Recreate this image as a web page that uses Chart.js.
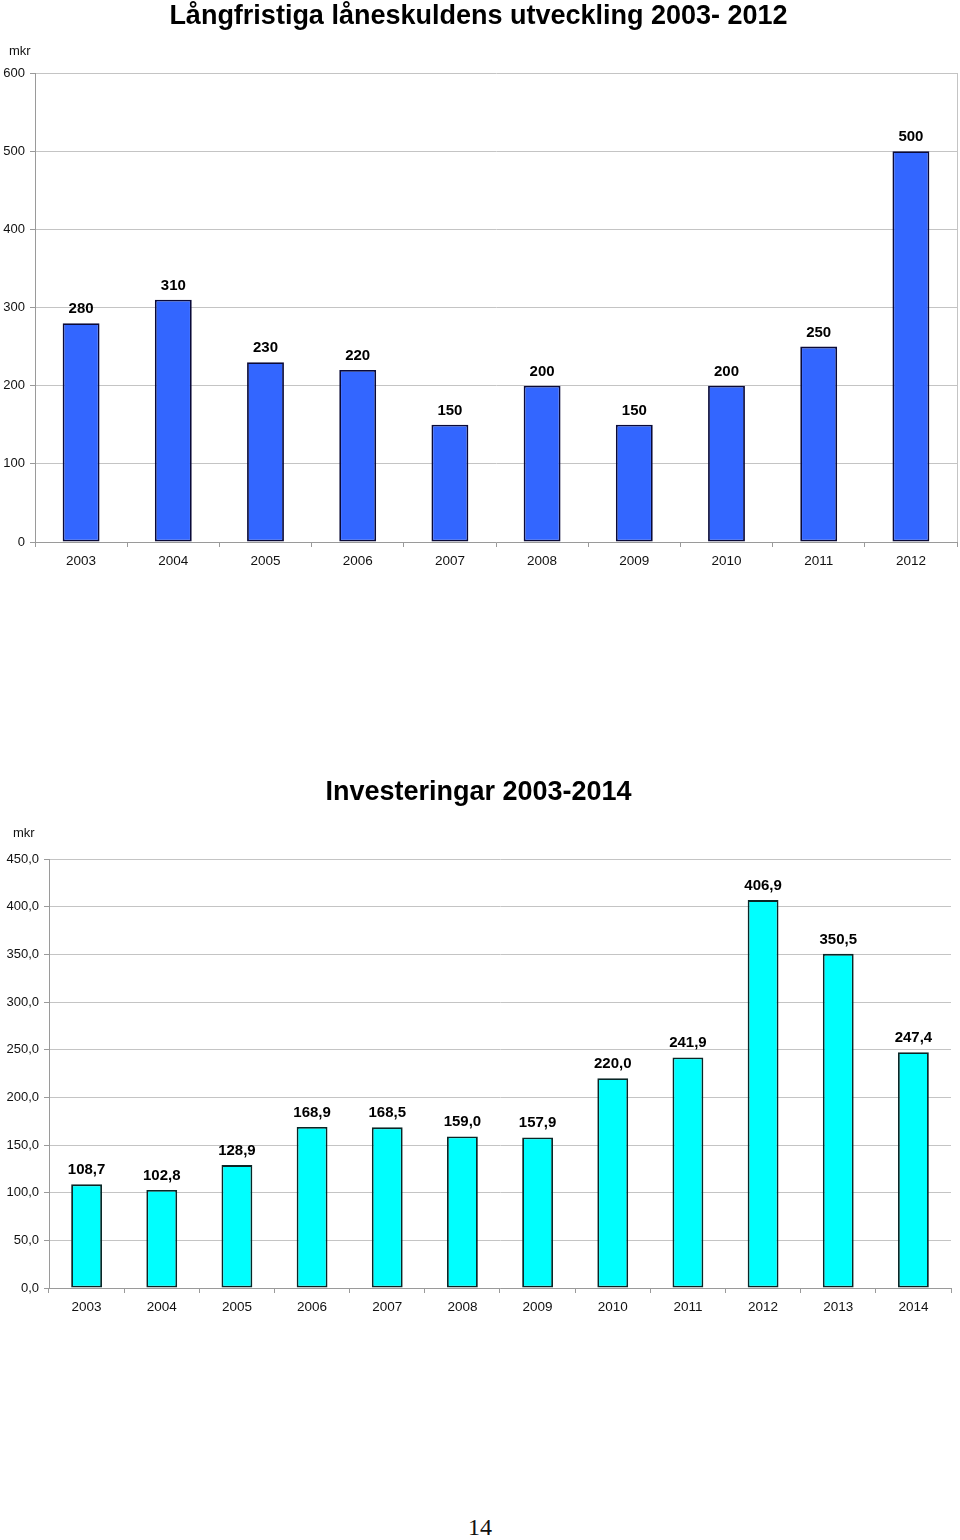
<!DOCTYPE html>
<html>
<head>
  <meta charset="utf-8">
  <title>Låneskuld och investeringar</title>
  <script src="https://cdn.jsdelivr.net/npm/chart.js"></script>
  <style>
    body { margin: 0; background: #fff; font-family: "Liberation Sans", Arial, sans-serif; }
    .page { position: relative; width: 960px; height: 1540px; }
    .box { position: absolute; left: 0; width: 960px; }
    .unit { position: absolute; font-size: 13px; color: #111; }
    .pagenr { position: absolute; top: 1514px; left: 0; width: 960px; text-align: center;
              font-family: "Liberation Serif", "DejaVu Serif", serif; font-size: 24px; color: #111; }
  </style>
</head>
<body>
<div class="page">
  <div class="box" style="top:0; height:572px;"><canvas id="loanChart" width="960" height="572"></canvas></div>
  <div class="unit" style="top:43px; left:9px;">mkr</div>

  <div class="box" style="top:760px; height:558px;"><canvas id="investChart" width="960" height="558"></canvas></div>
  <div class="unit" style="top:825px; left:13px;">mkr</div>

  <div class="pagenr">14</div>
</div>

<script>
  // Långfristig låneskuld, mkr
  const loanYears = ['2003', '2004', '2005', '2006', '2007', '2008', '2009', '2010', '2011', '2012'];
  const loanValues = [280, 310, 230, 220, 150, 200, 150, 200, 250, 500];

  // Investeringar, mkr
  const investYears = ['2003', '2004', '2005', '2006', '2007', '2008', '2009', '2010', '2011', '2012', '2013', '2014'];
  const investValues = [108.7, 102.8, 128.9, 168.9, 168.5, 159.0, 157.9, 220.0, 241.9, 406.9, 350.5, 247.4];

  const fontFamily = '"Liberation Sans", Arial, sans-serif';
  const gridColor = '#c4c4c4';
  const axisColor = '#9a9a9a';

  function sv(v, decimals) {
    return v.toFixed(decimals).replace('.', ',');
  }

  // value labels above the bars
  const valueLabels = {
    id: 'valueLabels',
    afterDatasetsDraw(chart, args, opts) {
      const ctx = chart.ctx;
      const meta = chart.getDatasetMeta(0);
      ctx.save();
      ctx.font = 'bold 15px ' + fontFamily;
      ctx.fillStyle = '#000';
      ctx.textAlign = 'center';
      ctx.textBaseline = 'alphabetic';
      meta.data.forEach((bar, i) => {
        const v = chart.data.datasets[0].data[i];
        ctx.fillText(sv(v, opts.decimals || 0), bar.x, bar.y - 10);
      });
      ctx.restore();
    }
  };

  // thin line on the right edge of the plot area
  const rightEdge = {
    id: 'rightEdge',
    beforeDatasetsDraw(chart, args, opts) {
      if (!opts.show) return;
      const a = chart.chartArea;
      const ctx = chart.ctx;
      ctx.save();
      ctx.strokeStyle = gridColor;
      ctx.lineWidth = 1;
      ctx.beginPath();
      ctx.moveTo(Math.round(a.right) + 0.5, a.top);
      ctx.lineTo(Math.round(a.right) + 0.5, a.bottom);
      ctx.stroke();
      ctx.restore();
    }
  };

  function makeChart(id, labels, values, cfg) {
    return new Chart(document.getElementById(id), {
      type: 'bar',
      data: {
        labels: labels,
        datasets: [{
          data: values,
          backgroundColor: cfg.fill,
          borderColor: cfg.border,
          borderWidth: 1.8,
          borderSkipped: false,
          barPercentage: cfg.barPct,
          categoryPercentage: 1
        }]
      },
      options: {
        responsive: false,
        animation: false,
        layout: { padding: { left: cfg.padLeft, right: cfg.padRight, top: 0, bottom: 0 } },
        plugins: {
          legend: { display: false },
          tooltip: { enabled: false },
          title: {
            display: true,
            text: cfg.title,
            color: '#000',
            font: { family: fontFamily, size: 27, weight: 'bold', lineHeight: 1.2 },
            padding: { top: cfg.titleTop, bottom: cfg.titleBottom }
          },
          valueLabels: { decimals: cfg.decimals },
          rightEdge: { show: cfg.rightEdge }
        },
        scales: {
          x: {
            offset: true,
            grid: { offset: true, drawOnChartArea: false, drawTicks: true, tickLength: 5, color: axisColor },
            border: { color: axisColor },
            ticks: { color: '#111', padding: 6, font: { family: fontFamily, size: 13.5 } },
            afterFit(scale) { scale.height = 30; }
          },
          y: {
            min: 0,
            max: cfg.max,
            grid: { color: gridColor, tickLength: 5, tickColor: axisColor },
            border: { color: axisColor },
            ticks: {
              stepSize: cfg.step,
              color: '#111',
              padding: 5,
              font: { family: fontFamily, size: 13 },
              callback: v => sv(v, cfg.decimals)
            },
            afterFit(scale) { scale.width = cfg.axisWidth; }
          }
        }
      },
      plugins: [valueLabels, rightEdge]
    });
  }

  makeChart('loanChart', loanYears, loanValues, {
    title: 'Långfristiga låneskuldens utveckling 2003- 2012',
    fill: '#3366ff', border: '#0a0a38', barPct: 0.4,
    max: 600, step: 100, decimals: 0,
    axisWidth: 35, padLeft: 0, padRight: 3, titleTop: 0, titleBottom: 40.6, rightEdge: true
  });

  makeChart('investChart', investYears, investValues, {
    title: 'Investeringar 2003-2014',
    fill: '#00ffff', border: '#0a2626', barPct: 0.41,
    max: 450, step: 50, decimals: 1,
    axisWidth: 43, padLeft: 6, padRight: 9, titleTop: 16, titleBottom: 50.6, rightEdge: false
  });
</script>
</body>
</html>
